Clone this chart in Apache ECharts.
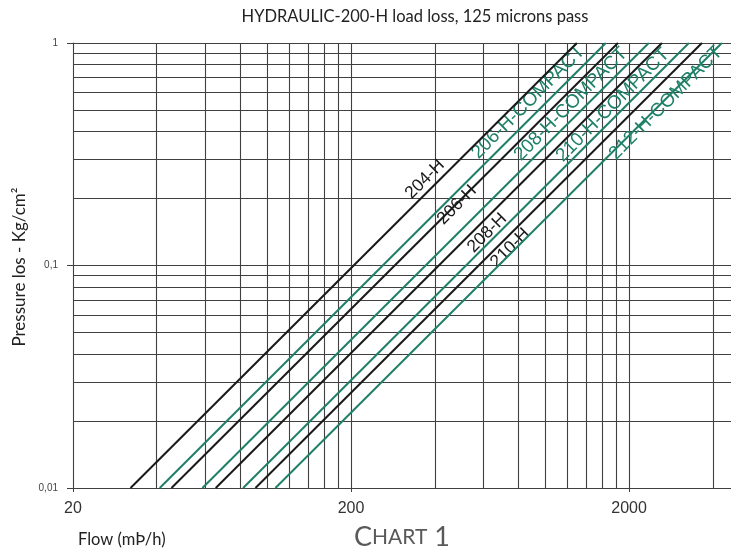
<!DOCTYPE html>
<html>
<head>
<meta charset="utf-8">
<script src="https://cdn.jsdelivr.net/npm/echarts@6/dist/echarts.min.js"></script>
<style>
  html, body { margin: 0; padding: 0; background: #fff; }
  #chart { width: 731px; height: 551px; }
</style>
</head>
<body>
<div id="chart"></div>
<script>
// ---- data ----
const seriesNames = ['204-H', '206-H-COMPACT', '206-H', '208-H-COMPACT', '208-H', '210-H-COMPACT', '210-H', '212-H-COMPACT'];
const seriesKind = ['std', 'compact', 'std', 'compact', 'std', 'compact', 'std', 'compact'];
const pressureRange = [0.01, 1];                 // pressure at line start / end
const flowAtStart = [32.2, 41.0, 45.2, 58.4, 65.2, 81.8, 90.6, 106.9];   // flow where pressure = 0.01
const flowAtEnd = [1297, 1649, 1823, 2353, 2624, 3281, 3655, 4311];      // flow where pressure = 1
const labelFlow = [369, 868, 481, 1234, 617, 1748, 747, 2710];
const labelPressure = [0.244, 0.542, 0.187, 0.531, 0.140, 0.526, 0.120, 0.537];
const xTickLabels = [20, 200, 2000];
const yTickLabels = [0.01, 0.1, 1];
const xGridValues = [20, 40, 60, 80, 100, 120, 140, 160, 180, 200, 400, 600, 800, 1000, 1200, 1400, 1600, 1800, 2000, 4000];
const yGridValues = [0.01, 0.02, 0.03, 0.04, 0.05, 0.06, 0.07, 0.08, 0.09, 0.1, 0.2, 0.3, 0.4, 0.5, 0.6, 0.7, 0.8, 0.9, 1];

// ---- style ----
const colorStd = '#1a1a1a';
const colorCompact = '#1f8068';
const gridColor = '#404040';
const textFont = 'Lato, "Open Sans", sans-serif';

const chart = echarts.init(document.getElementById('chart'), null, { renderer: 'canvas' });

const series = seriesNames.map((name, i) => {
  const compact = seriesKind[i] === 'compact';
  const col = compact ? colorCompact : colorStd;
  return {
    name: name,
    type: 'line',
    data: [[flowAtStart[i], pressureRange[0]], [flowAtEnd[i], pressureRange[1]]],
    showSymbol: false,
    symbol: 'none',
    silent: true,
    animation: false,
    z: 5,
    lineStyle: { color: col, width: 2 },
    markPoint: {
      silent: true,
      animation: false,
      symbol: 'circle',
      symbolSize: 1,
      itemStyle: { color: 'rgba(0,0,0,0)' },
      label: {
        show: true,
        position: 'inside',
        rotate: 45,
        color: col,
        fontFamily: 'Liberation Sans, Arial, sans-serif',
        fontSize: compact ? 19 : 17.5,
        formatter: name
      },
      data: [{ coord: [labelFlow[i], labelPressure[i]] }]
    }
  };
});

// grid lines drawn through the axes' own scales
series.push({
  name: 'grid',
  type: 'line',
  data: [],
  silent: true,
  animation: false,
  z: 1,
  markLine: {
    silent: true,
    animation: false,
    symbol: ['none', 'none'],
    label: { show: false },
    lineStyle: { color: gridColor, width: 1.1, type: 'solid' },
    emphasis: { disabled: true },
    data: xGridValues.map(v => ({ xAxis: v })).concat(yGridValues.map(v => ({ yAxis: v })))
  }
});

const option = {
  backgroundColor: '#ffffff',
  animation: false,
  grid: { left: 73, right: 0, top: 43, bottom: 63, containLabel: false },
  xAxis: {
    type: 'log',
    logBase: 10,
    min: 20,
    max: 4650,
    axisLine: { show: true, lineStyle: { color: gridColor, width: 1 } },
    axisTick: { show: true, customValues: xTickLabels, length: 4, lineStyle: { color: gridColor } },
    splitLine: { show: false },
    minorTick: { show: false },
    axisLabel: {
      customValues: xTickLabels,
      fontSize: 16,
      color: '#333',
      margin: 13,
      fontFamily: 'Liberation Sans, Arial, sans-serif',
      formatter: v => String(Math.round(v))
    }
  },
  yAxis: {
    type: 'log',
    logBase: 10,
    min: 0.01,
    max: 1,
    axisLine: { show: true, lineStyle: { color: gridColor, width: 1 } },
    axisTick: { show: true, customValues: yTickLabels, length: 6, lineStyle: { color: gridColor } },
    splitLine: { show: false },
    minorTick: { show: false },
    axisLabel: {
      customValues: yTickLabels,
      fontSize: 10,
      color: '#444',
      margin: 15,
      fontFamily: 'Liberation Sans, Arial, sans-serif',
      formatter: v => {
        const s = v >= 1 ? '1' : (v >= 0.1 ? '0.1' : '0.01');
        return s.replace('.', ',');
      }
    }
  },
  graphic: [
    {
      type: 'text',
      style: {
        text: 'HYDRAULIC-200-H load loss, 125 microns pass',
        x: 415, y: 17, align: 'center', verticalAlign: 'middle',
        fill: '#222', font: '16.5px ' + textFont
      }
    },
    {
      type: 'text',
      x: 20, y: 267, rotation: Math.PI / 2,
      style: {
        text: 'Pressure los - Kg/cm²',
        align: 'center', verticalAlign: 'middle',
        fill: '#222', font: '17px ' + textFont
      }
    },
    {
      type: 'text',
      style: {
        text: 'Flow (mÞ/h)',
        x: 78, y: 540, align: 'left', verticalAlign: 'middle',
        fill: '#222', font: '16.5px ' + textFont
      }
    },
    {
      type: 'text',
      style: {
        text: '{a|C}{b|HART}{a| 1}',
        x: 402, y: 551, align: 'center', verticalAlign: 'bottom',
        rich: {
          a: { fontSize: 27, fontFamily: textFont, fill: '#595959' },
          b: { fontSize: 21, fontFamily: textFont, fill: '#595959' }
        }
      }
    }
  ],
  series: series
};

chart.setOption(option);
</script>
</body>
</html>
